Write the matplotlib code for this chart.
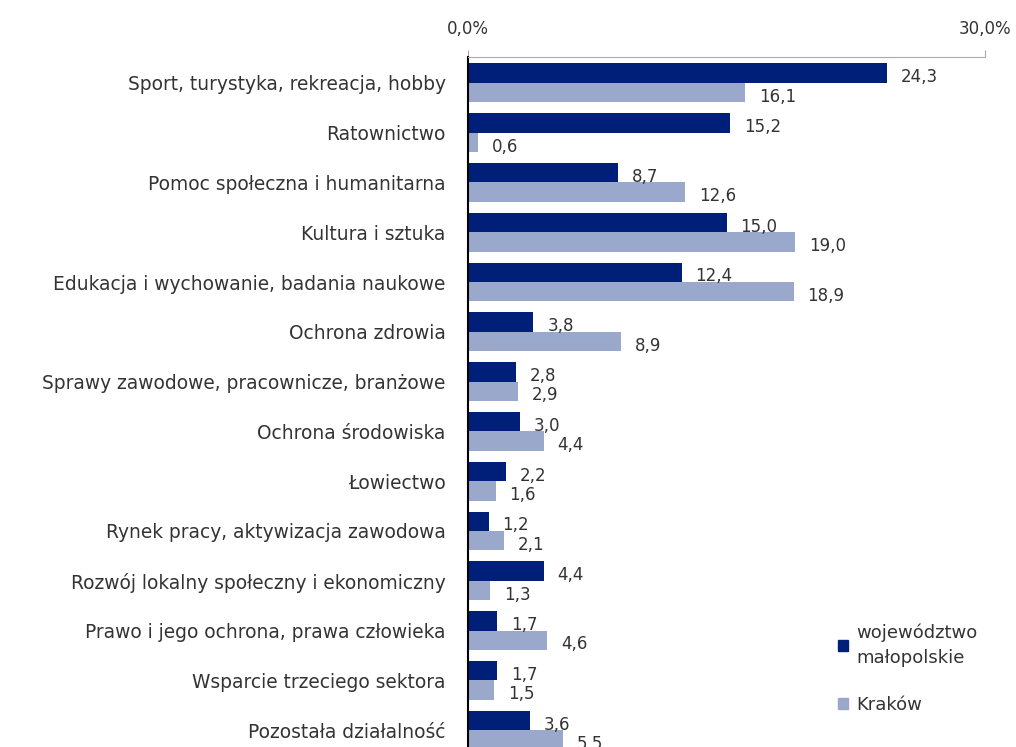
import matplotlib
matplotlib.use("Agg")
import matplotlib.pyplot as plt
from matplotlib.patches import Patch
import numpy as np

categories = [
    "Sport, turystyka, rekreacja, hobby",
    "Ratownictwo",
    "Pomoc społeczna i humanitarna",
    "Kultura i sztuka",
    "Edukacja i wychowanie, badania naukowe",
    "Ochrona zdrowia",
    "Sprawy zawodowe, pracownicze, branżowe",
    "Ochrona środowiska",
    "Łowiectwo",
    "Rynek pracy, aktywizacja zawodowa",
    "Rozwój lokalny społeczny i ekonomiczny",
    "Prawo i jego ochrona, prawa człowieka",
    "Wsparcie trzeciego sektora",
    "Pozostała działalność",
]
malopolskie = [24.3, 15.2, 8.7, 15.0, 12.4, 3.8, 2.8, 3.0, 2.2, 1.2, 4.4, 1.7, 1.7, 3.6]
krakow = [16.1, 0.6, 12.6, 19.0, 18.9, 8.9, 2.9, 4.4, 1.6, 2.1, 1.3, 4.6, 1.5, 5.5]
series_names = ["województwo\nmałopolskie", "Kraków"]
x_ticks = [0, 30]
x_tick_labels = ["0,0%", "30,0%"]

dark = "#001f78"
light = "#9aa8cc"
txt = "#333333"

plt.rcParams['font.family'] = ['DejaVu Sans']

fig = plt.figure(figsize=(10.16, 7.47), dpi=100)
ax = fig.add_axes([468/1016, (747-756)/747, (985-468)/1016, (756-57)/747])

n = len(categories)
y = np.arange(n)
h = 0.39
b1 = ax.barh(y - h/2, malopolskie, height=h, color=dark)
b2 = ax.barh(y + h/2, krakow, height=h, color=light)

for bars, vals in ((b1, malopolskie), (b2, krakow)):
    for bar, v in zip(bars, vals):
        cy = bar.get_y() + bar.get_height()/2
        ax.annotate(f"{v:.1f}".replace(".", ","), xy=(v, cy), xytext=(10, -3),
                    textcoords="offset points", va="center", ha="left",
                    fontsize=12, color=txt)

ax.set_xlim(0, 30)
ax.set_ylim(n - 1 + 0.52, -0.52)
ax.xaxis.tick_top()
ax.set_xticks(x_ticks)
ax.set_xticklabels(x_tick_labels, fontsize=12, color=txt)
ax.tick_params(axis='x', direction='out', length=5, color="#aaaaaa", pad=9)
ax.set_yticks(y)
ax.set_yticklabels(categories, fontsize=13.4, color=txt)
ax.tick_params(axis='y', length=0, pad=16)

for s in ("right", "bottom"):
    ax.spines[s].set_visible(False)
ax.spines["top"].set_color("#aaaaaa")
ax.spines["left"].set_color("black")
ax.spines["left"].set_linewidth(1.5)

handles = [Patch(color=dark), Patch(color=light)]
leg = fig.legend(handles, series_names, loc="upper left",
                 bbox_to_anchor=(822/1016, 1 - 607/747), frameon=False,
                 fontsize=13, handlelength=0.55, handleheight=0.55, handletextpad=0.45,
                 labelspacing=1.6, labelcolor=txt)
for t in leg.get_texts():
    t.set_linespacing(1.5)

fig.savefig("out.png", dpi=100)
